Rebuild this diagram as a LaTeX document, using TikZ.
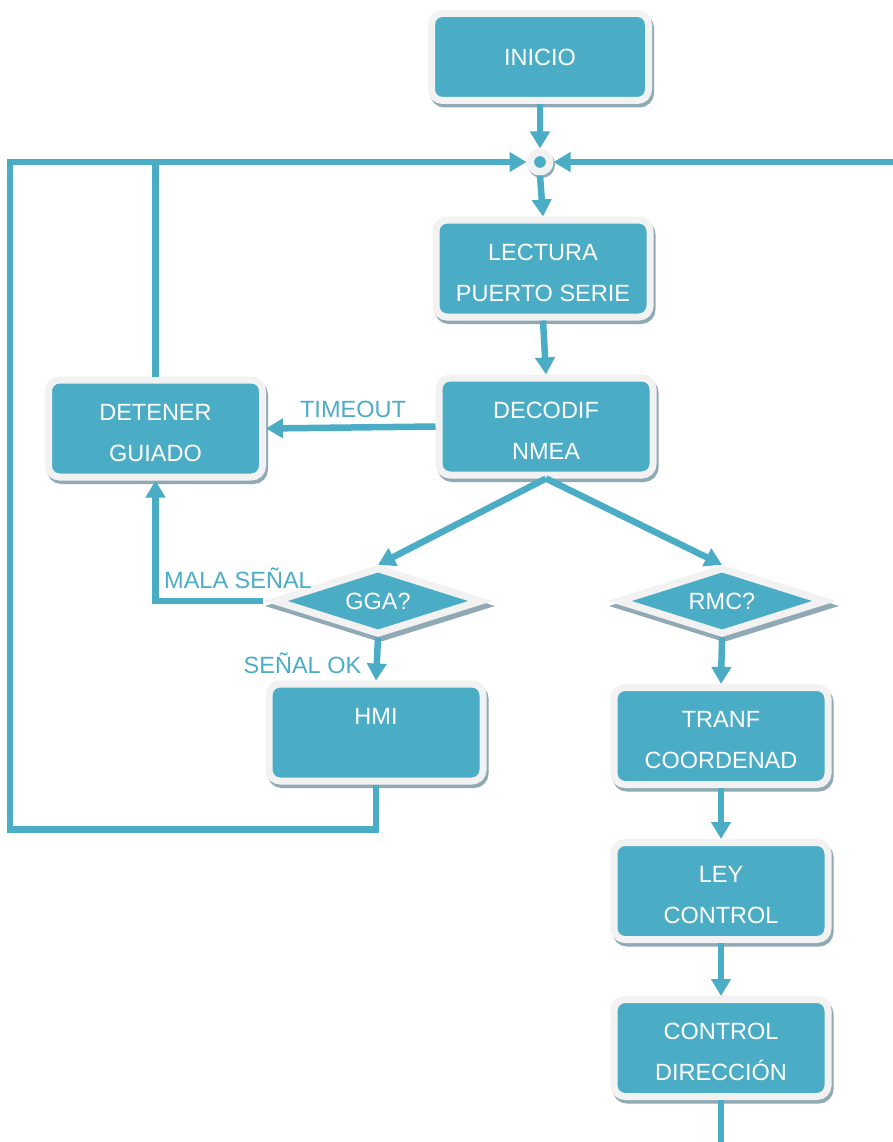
\documentclass[tikz,border=0pt]{standalone}
\usepackage{fontspec}
\setmainfont{Liberation Sans}
\usetikzlibrary{arrows.meta,shapes.geometric}
\definecolor{cy}{HTML}{4BACC6}
\definecolor{bord}{HTML}{F2F2F2}
\definecolor{shad}{HTML}{8FAAB5}
\begin{document}
\begin{tikzpicture}[x=1pt,y=-1pt,
  procbox/.style={rectangle, rounded corners=11pt, fill=cy, draw=bord, line width=7pt,
     minimum width=214pt, minimum height=97pt, inner sep=0pt, text=white, align=center,
     font=\fontsize{23.5}{41}\selectfont,
     preaction={draw=shad, fill=shad, transform canvas={xshift=2pt,yshift=-3.5pt}}},
  twoline/.style={text height=65.5pt, text depth=0pt},
  dmo/.style={diamond, aspect=3, fill=bord, minimum width=230pt, minimum height=72pt, inner sep=0pt,
     preaction={fill=shad, transform canvas={xshift=2pt,yshift=-5pt}}},
  dmi/.style={diamond, aspect=3, fill=cy, minimum width=180pt, minimum height=57pt, inner sep=0pt,
     text=white, font=\fontsize{23.5}{28}\selectfont},
  juncstyle/.style={circle, fill=cy, draw=bord, line width=7.5pt, minimum size=19.5pt, inner sep=0pt,
     preaction={draw=shad, fill=shad, transform canvas={xshift=1.5pt,yshift=-2.5pt}}},
  con/.style={draw=cy, line width=6.5pt},
  arr/.style={con, -{Triangle[width=19pt,length=17pt]}},
  lbl/.style={text=cy, font=\fontsize{23.5}{28}\selectfont, inner sep=0pt, anchor=base}
]
\useasboundingbox (0,0) rectangle (892,1142);

% nodes
\node[procbox, minimum width=217pt, minimum height=87pt] (ini) at (540,57) {INICIO};
\node[juncstyle] (junc) at (540,162) {};
\node[procbox, twoline] (lec) at (543,268.5) {LECTURA\\PUERTO SERIE};
\node[procbox, twoline] (dec) at (546,426.5) {DECODIF\\NMEA};
\node[procbox, twoline] (det) at (155.5,428.5) {DETENER\\GUIADO};
\node[dmo] (gga) at (378,601) {};
\node[dmi] (ggai) at (378,601) {GGA?};
\node[dmo] (rmc) at (722,601) {};
\node[dmi] (rmci) at (722,601) {RMC?};
\node[procbox, twoline] (hmi) at (376,732.5) {HMI\\~};
\node[procbox, twoline] (tra) at (721,736) {TRANF\\COORDENAD};
\node[procbox, twoline] (ley) at (721,891) {LEY\\CONTROL};
\node[procbox, twoline] (ctl) at (721,1048) {CONTROL\\DIRECCIÓN};

% labels
\node[lbl] (ltime) at (353,417) {TIMEOUT};
\node[lbl] (lmala) at (238,588) {MALA SEÑAL};
\node[lbl] (lok) at (302.5,673) {SEÑAL OK};

% connectors
\draw[arr] (ini.south) -- (junc.north);
\draw[arr] (junc.south) -- (lec.north);
\draw[arr] (lec.south) -- (dec.north);
\draw[arr] (dec.west) -- (det.east);
\draw[arr] (dec.south) -- (gga.north);
\draw[arr] (dec.south) -- (rmc.north);
\draw[arr] (gga.west) -| (det.south);
\draw[arr] (gga.south) -- (hmi.north);
\draw[arr] (hmi.south) -- ++(0,45) -| (10,162) -- (junc.west);
\draw[con] (det.north) -- (det.north |- junc.west);
\draw[arr] (rmc.south) -- (tra.north);
\draw[arr] (tra.south) -- (ley.north);
\draw[arr] (ley.south) -- (ctl.north);
\draw[arr] (ctl.south) -- ++(0,46) -| (912,162) -- (junc.east);
\end{tikzpicture}
\end{document}
